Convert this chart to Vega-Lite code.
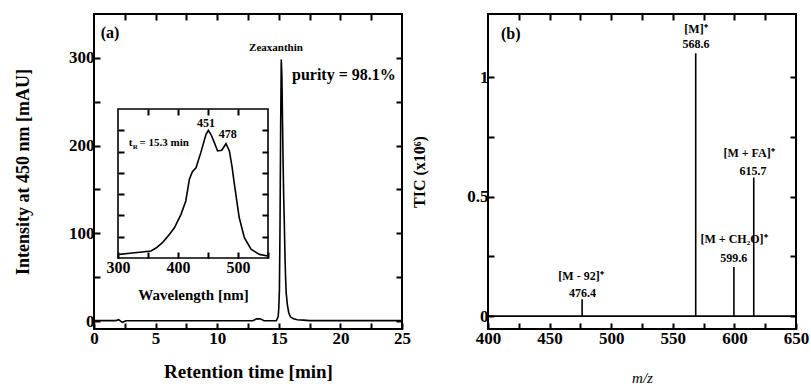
{
  "$schema": "https://vega.github.io/schema/vega-lite/v6.json",
  "autosize": {"type": "pad"},
  "padding": {"left": 13, "top": 12, "right": 0, "bottom": 0},
  "background": "white",
  "spacing": 86,
  "bounds": "flush",
  "config": {
    "view": {"stroke": "black", "strokeWidth": 2},
    "axis": {
      "domain": false, "grid": false,
      "labelFlush": false, "labelOverlap": false,
      "labelFont": "Liberation Serif", "labelFontWeight": "bold", "labelFontSize": 17, "labelColor": "black",
      "titleFont": "Liberation Serif", "titleFontWeight": "bold", "titleColor": "black"
    },
    "text": {"font": "Liberation Serif", "fontWeight": "bold", "color": "black"}
  },
  "datasets": {
    "chrom": [
      {"t": 0, "intensity": 0.5}, {"t": 1.8, "intensity": 0.5}, {"t": 2.0, "intensity": 1.5}, {"t": 2.3, "intensity": -1.5},
      {"t": 2.6, "intensity": 0.3}, {"t": 12.9, "intensity": 0.3}, {"t": 13.2, "intensity": 2.5}, {"t": 13.5, "intensity": 2.5},
      {"t": 13.8, "intensity": 0.3}, {"t": 14.8, "intensity": 0.3}, {"t": 14.95, "intensity": 5}, {"t": 15.0, "intensity": 15},
      {"t": 15.05, "intensity": 35}, {"t": 15.1, "intensity": 110}, {"t": 15.15, "intensity": 220}, {"t": 15.2, "intensity": 298},
      {"t": 15.25, "intensity": 280}, {"t": 15.3, "intensity": 230}, {"t": 15.35, "intensity": 180}, {"t": 15.4, "intensity": 140},
      {"t": 15.45, "intensity": 110}, {"t": 15.5, "intensity": 75}, {"t": 15.55, "intensity": 50}, {"t": 15.6, "intensity": 32},
      {"t": 15.7, "intensity": 18}, {"t": 15.8, "intensity": 10}, {"t": 15.9, "intensity": 6}, {"t": 16.0, "intensity": 4},
      {"t": 16.2, "intensity": 2.5}, {"t": 16.5, "intensity": 1.5}, {"t": 17.0, "intensity": 1}, {"t": 17.5, "intensity": 0.5},
      {"t": 25, "intensity": 0.5}
    ],
    "spectrum": [
      {"wl": 302, "abs": 0.17}, {"wl": 320, "abs": 0.22}, {"wl": 340, "abs": 0.28}, {"wl": 355, "abs": 0.33},
      {"wl": 364, "abs": 0.48}, {"wl": 374, "abs": 0.72}, {"wl": 384, "abs": 1.05}, {"wl": 394, "abs": 1.42},
      {"wl": 405, "abs": 2.05}, {"wl": 413, "abs": 2.68}, {"wl": 419, "abs": 3.7}, {"wl": 424, "abs": 4.05},
      {"wl": 430, "abs": 4.24}, {"wl": 438, "abs": 4.95}, {"wl": 446.7, "abs": 5.81}, {"wl": 450.6, "abs": 6.0},
      {"wl": 455, "abs": 5.8}, {"wl": 460.6, "abs": 5.42}, {"wl": 466, "abs": 5.03}, {"wl": 472.8, "abs": 5.06},
      {"wl": 480, "abs": 5.37}, {"wl": 485.6, "abs": 5.03}, {"wl": 490, "abs": 4.3}, {"wl": 494, "abs": 3.46},
      {"wl": 502, "abs": 1.9}, {"wl": 510.6, "abs": 0.95}, {"wl": 521.7, "abs": 0.41}, {"wl": 535.6, "abs": 0.17},
      {"wl": 549.5, "abs": 0.09}
    ],
    "ms": [
      {"mz": 476.4, "tic": 0.07}, {"mz": 568.6, "tic": 1.1}, {"mz": 599.6, "tic": 0.205}, {"mz": 615.7, "tic": 0.58}
    ],
    "msLabels": [
      {"mz": 568.8, "tic": 1.201, "label": "[M]⁺"}, {"mz": 568.8, "tic": 1.138, "label": "568.6"},
      {"mz": 611.9, "tic": 0.682, "label": "[M + FA]⁺"}, {"mz": 615.1, "tic": 0.607, "label": "615.7"},
      {"mz": 599.7, "tic": 0.323, "label": "[M + CH₂O]⁺"}, {"mz": 599.5, "tic": 0.243, "label": "599.6"},
      {"mz": 475.5, "tic": 0.168, "label": "[M - 92]⁺"}, {"mz": 476.8, "tic": 0.097, "label": "476.4"}
    ]
  },
  "hconcat": [
    {
      "width": 308, "height": 315,
      "layer": [
        {
          "layer": [
            {
              "data": {"name": "chrom"},
              "mark": {"type": "line", "color": "black", "strokeWidth": 1.6},
              "encoding": {
                "x": {"field": "t", "type": "quantitative", "scale": {"domain": [0, 25], "nice": false, "zero": false},
                  "axis": {"orient": "bottom", "values": [0, 2.5, 5, 7.5, 10, 12.5, 15, 17.5, 20, 22.5, 25],
                    "labelExpr": "datum.value % 5 === 0 ? format(datum.value, 'd') : ''",
                    "tickColor": "black", "tickWidth": 2, "tickSize": -6,
                    "labelPadding": 15, "labelBaseline": "middle",
                    "title": "Retention time [min]", "titleFontSize": 19, "titleX": 154, "titleY": 42, "titleBaseline": "middle"}},
                "y": {"field": "intensity", "type": "quantitative", "scale": {"domain": [-9.1, 350], "nice": false, "zero": false},
                  "axis": {"orient": "left", "values": [0, 50, 100, 150, 200, 250, 300],
                    "labelExpr": "datum.value % 100 === 0 ? format(datum.value, 'd') : ''",
                    "tickColor": "black", "tickWidth": 2, "tickSize": -6,
                    "labelPadding": 6, "labelBaseline": "middle",
                    "title": "Intensity at 450 nm [mAU]", "titleFontSize": 18, "titleX": -71, "titleY": 157.5, "titleBaseline": "middle"}}
              }
            },
            {
              "data": {"values": [{"t": 0.55, "intensity": 328, "label": "(a)"}, {"t": 16.07, "intensity": 280.6, "label": "purity = 98.1%"}]},
              "mark": {"type": "text", "align": "left", "baseline": "middle", "fontSize": 16},
              "encoding": {
                "x": {"field": "t", "type": "quantitative", "scale": {"domain": [0, 25], "nice": false, "zero": false},
                  "axis": {"orient": "top", "values": [2.5, 5, 7.5, 10, 12.5, 15, 17.5, 20, 22.5], "labels": false, "title": null,
                    "tickColor": "black", "tickWidth": 2, "tickSize": -6}},
                "y": {"field": "intensity", "type": "quantitative", "scale": {"domain": [-9.1, 350], "nice": false, "zero": false},
                  "axis": {"orient": "right", "values": [0, 50, 100, 150, 200, 250, 300], "labels": false, "title": null,
                    "tickColor": "black", "tickWidth": 2, "tickSize": -6}},
                "text": {"field": "label"}
              }
            },
            {
              "data": {"values": [{"t": 14.77, "intensity": 311, "label": "Zeaxanthin"}]},
              "mark": {"type": "text", "align": "center", "baseline": "middle", "fontSize": 11},
              "encoding": {
                "x": {"field": "t", "type": "quantitative", "scale": {"domain": [0, 25], "nice": false, "zero": false}, "axis": null},
                "y": {"field": "intensity", "type": "quantitative", "scale": {"domain": [-9.1, 350], "nice": false, "zero": false}, "axis": null},
                "text": {"field": "label"}
              }
            }
          ],
          "resolve": {"axis": {"x": "independent", "y": "independent"}}
        },
        {
          "layer": [
            {
              "data": {"values": [{"x1": 300, "x2": 550, "y1": 0, "y2": 7}]},
              "mark": {"type": "rect", "fill": "white", "stroke": "black", "strokeWidth": 1.6},
              "encoding": {
                "x": {"field": "x1", "type": "quantitative", "scale": {"domain": [260, 773.33], "nice": false, "zero": false},
                  "axis": {"orient": "bottom", "offset": -71, "values": [300, 350, 400, 450, 500, 550], "zindex": 1,
                    "labelExpr": "datum.value % 100 === 0 && datum.value < 550 ? format(datum.value, 'd') : ''",
                    "tickColor": "black", "tickWidth": 2, "tickSize": -6,
                    "labelPadding": 15, "labelBaseline": "middle", "labelFontSize": 16,
                    "title": "Wavelength [nm]", "titleFontSize": 15, "titleX": 99, "titleY": 36, "titleBaseline": "middle"}},
                "x2": {"field": "x2"},
                "y": {"field": "y1", "type": "quantitative", "scale": {"domain": [-3.336, 11.463], "nice": false, "zero": false},
                  "axis": {"orient": "left", "offset": -24, "values": [1, 2, 3, 4, 5, 6], "labels": false, "title": null, "zindex": 1,
                    "tickColor": "black", "tickWidth": 2, "tickSize": -6}},
                "y2": {"field": "y2"}
              }
            },
            {
              "data": {"name": "spectrum"},
              "mark": {"type": "line", "color": "black", "strokeWidth": 1.6},
              "encoding": {
                "x": {"field": "wl", "type": "quantitative", "scale": {"domain": [260, 773.33], "nice": false, "zero": false},
                  "axis": {"orient": "top", "offset": -95, "values": [350, 400, 450, 500], "labels": false, "title": null, "zindex": 1,
                    "tickColor": "black", "tickWidth": 2, "tickSize": -6}},
                "y": {"field": "abs", "type": "quantitative", "scale": {"domain": [-3.336, 11.463], "nice": false, "zero": false},
                  "axis": {"orient": "right", "offset": -134, "values": [1, 2, 3, 4, 5, 6], "labels": false, "title": null, "zindex": 1,
                    "tickColor": "black", "tickWidth": 2, "tickSize": -6}}
              }
            },
            {
              "data": {"values": [{"wl": 446.7, "abs": 6.34, "label": "451"}, {"wl": 483, "abs": 5.83, "label": "478"}]},
              "mark": {"type": "text", "align": "center", "baseline": "middle", "fontSize": 12},
              "encoding": {
                "x": {"field": "wl", "type": "quantitative", "scale": {"domain": [260, 773.33], "nice": false, "zero": false}, "axis": null},
                "y": {"field": "abs", "type": "quantitative", "scale": {"domain": [-3.336, 11.463], "nice": false, "zero": false}, "axis": null},
                "text": {"field": "label"}
              }
            },
            {
              "data": {"values": [{"wl": 318, "abs": 5.4, "label": "t"}, {"wl": 336, "abs": 5.4, "label": "= 15.3 min"}]},
              "mark": {"type": "text", "align": "left", "baseline": "middle", "fontSize": 11},
              "encoding": {
                "x": {"field": "wl", "type": "quantitative", "scale": {"domain": [260, 773.33], "nice": false, "zero": false}, "axis": null},
                "y": {"field": "abs", "type": "quantitative", "scale": {"domain": [-3.336, 11.463], "nice": false, "zero": false}, "axis": null},
                "text": {"field": "label"}
              }
            },
            {
              "data": {"values": [{"wl": 324.5, "abs": 5.2, "label": "R"}]},
              "mark": {"type": "text", "align": "left", "baseline": "middle", "fontSize": 7},
              "encoding": {
                "x": {"field": "wl", "type": "quantitative", "scale": {"domain": [260, 773.33], "nice": false, "zero": false}, "axis": null},
                "y": {"field": "abs", "type": "quantitative", "scale": {"domain": [-3.336, 11.463], "nice": false, "zero": false}, "axis": null},
                "text": {"field": "label"}
              }
            }
          ],
          "resolve": {"axis": {"x": "independent", "y": "independent"}}
        }
      ],
      "resolve": {"scale": {"x": "independent", "y": "independent"}, "axis": {"x": "independent", "y": "independent"}}
    },
    {
      "width": 308, "height": 315,
      "layer": [
        {
          "data": {"values": [{"v": 0}]},
          "mark": {"type": "rule", "color": "black", "strokeWidth": 1.6},
          "encoding": {
            "y": {"field": "v", "type": "quantitative", "scale": {"domain": [-0.054, 1.264], "nice": false, "zero": false}, "axis": null}
          }
        },
        {
          "data": {"name": "ms"},
          "mark": {"type": "rule", "color": "black", "strokeWidth": 1.6},
          "encoding": {
            "x": {"field": "mz", "type": "quantitative", "scale": {"domain": [400, 650], "nice": false, "zero": false},
              "axis": {"orient": "bottom", "values": [400, 425, 450, 475, 500, 525, 550, 575, 600, 625, 650],
                "labelExpr": "datum.value % 50 === 0 ? format(datum.value, 'd') : ''",
                "tickColor": "black", "tickWidth": 2, "tickSize": -6,
                "labelPadding": 15, "labelBaseline": "middle",
                "title": "m/z", "titleFontSize": 15, "titleFontStyle": "italic", "titleFontWeight": "normal", "titleX": 154, "titleY": 48, "titleBaseline": "middle"}},
            "y": {"field": "tic", "type": "quantitative", "scale": {"domain": [-0.054, 1.264], "nice": false, "zero": false},
              "axis": {"orient": "left", "values": [0, 0.25, 0.5, 0.75, 1],
                "labelExpr": "datum.value === 0 ? '0' : datum.value === 0.5 ? '0.5' : datum.value === 1 ? '1' : ''",
                "tickColor": "black", "tickWidth": 2, "tickSize": -6,
                "labelPadding": 6, "labelBaseline": "middle",
                "title": "TIC (x10⁶)", "titleFontSize": 16, "titleX": -69, "titleY": 157.5, "titleBaseline": "middle"}},
            "y2": {"datum": 0}
          }
        },
        {
          "data": {"name": "msLabels"},
          "mark": {"type": "text", "align": "center", "baseline": "middle", "fontSize": 12},
          "encoding": {
            "x": {"field": "mz", "type": "quantitative", "scale": {"domain": [400, 650], "nice": false, "zero": false},
              "axis": {"orient": "top", "values": [425, 450, 475, 500, 525, 550, 575, 600, 625], "labels": false, "title": null,
                "tickColor": "black", "tickWidth": 2, "tickSize": -6}},
            "y": {"field": "tic", "type": "quantitative", "scale": {"domain": [-0.054, 1.264], "nice": false, "zero": false},
              "axis": {"orient": "right", "values": [0, 0.25, 0.5, 0.75, 1], "labels": false, "title": null,
                "tickColor": "black", "tickWidth": 2, "tickSize": -6}},
            "text": {"field": "label"}
          }
        },
        {
          "data": {"values": [{"mz": 410.5, "tic": 1.18, "label": "(b)"}]},
          "mark": {"type": "text", "align": "left", "baseline": "middle", "fontSize": 16},
          "encoding": {
            "x": {"field": "mz", "type": "quantitative", "scale": {"domain": [400, 650], "nice": false, "zero": false}, "axis": null},
            "y": {"field": "tic", "type": "quantitative", "scale": {"domain": [-0.054, 1.264], "nice": false, "zero": false}, "axis": null},
            "text": {"field": "label"}
          }
        }
      ],
      "resolve": {"axis": {"x": "independent", "y": "independent"}}
    }
  ]
}
